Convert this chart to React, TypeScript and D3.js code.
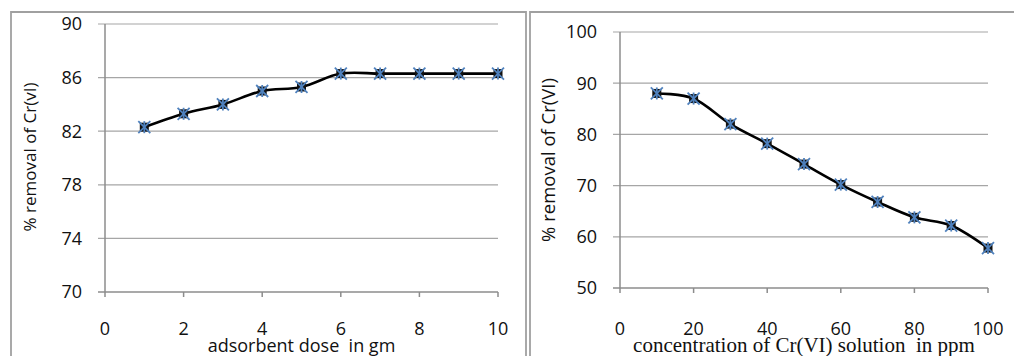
import React from "react";
import * as d3 from "d3";

const doseX = [1, 2, 3, 4, 5, 6, 7, 8, 9, 10];
const doseY = [82.3, 83.3, 84.0, 85.0, 85.3, 86.3, 86.3, 86.3, 86.3, 86.3];
const doseXTicks = [0, 2, 4, 6, 8, 10];
const doseYTicks = [70, 74, 78, 82, 86, 90];

const concX = [10, 20, 30, 40, 50, 60, 70, 80, 90, 100];
const concY = [88.0, 87.0, 82.0, 78.2, 74.2, 70.2, 66.8, 63.8, 62.2, 57.8];
const concXTicks = [0, 20, 40, 60, 80, 100];
const concYTicks = [50, 60, 70, 80, 90, 100];

const SANS = "'Open Sans', 'DejaVu Sans', sans-serif";
const SERIF = "'Liberation Serif', 'Times New Roman', serif";

type PanelProps = {
  xs: number[];
  ys: number[];
  xTicks: number[];
  yTicks: number[];
  xDomain: [number, number];
  yDomain: [number, number];
  x0: number;
  x1: number;
  y0: number;
  y1: number;
  yLabelRight: number;
  yTitleX: number;
  yTitleY: number;
  yTitleSize: number;
  yTitle: string;
  xTitle: string;
  xTitleFont: string;
  xTitleSize: number;
};

function Marker({ cx, cy }: { cx: number; cy: number }) {
  const r = 6;
  return (
    <g>
      <rect x={cx - 4.5} y={cy - 4.5} width={9} height={9} fill="#111" />
      <line x1={cx - r} y1={cy - r} x2={cx + r} y2={cy + r} stroke="#4F81BD" strokeWidth={1.8} />
      <line x1={cx - r} y1={cy + r} x2={cx + r} y2={cy - r} stroke="#4F81BD" strokeWidth={1.8} />
      <line x1={cx} y1={cy - r} x2={cx} y2={cy + r} stroke="#4F81BD" strokeWidth={1.8} />
    </g>
  );
}

function Panel(p: PanelProps) {
  const x = d3.scaleLinear().domain(p.xDomain).range([p.x0, p.x1]);
  const y = d3.scaleLinear().domain(p.yDomain).range([p.y1, p.y0]);
  const line = d3
    .line<number>()
    .x((_, i) => x(p.xs[i]))
    .y((d) => y(d))
    .curve(d3.curveCardinal.tension(0));
  const path = line(p.ys) || "";
  const midX = (p.x0 + p.x1) / 2;
  return (
    <g>
      {p.yTicks.map((t) => (
        <g key={"gy" + t}>
          <line x1={p.x0 - 7} x2={p.x1} y1={y(t)} y2={y(t)} stroke={t === p.yDomain[0] ? "#8c8c8c" : "#a6a6a6"} strokeWidth={t === p.yDomain[0] ? 1.5 : 1.2} />
          <text x={p.yLabelRight} y={y(t)} dy="0.36em" textAnchor="end" fontFamily={SANS} fontSize={18} fill="#111">
            {t}
          </text>
        </g>
      ))}
      <line x1={p.x0} x2={p.x0} y1={p.y0} y2={p.y1} stroke="#8c8c8c" strokeWidth={1.5} />
      {p.xTicks.map((t) => (
        <g key={"gx" + t}>
          <line x1={x(t)} x2={x(t)} y1={p.y1} y2={p.y1 + 5} stroke="#8c8c8c" strokeWidth={1.5} />
          <text x={x(t)} y={335} textAnchor="middle" fontFamily={SANS} fontSize={18} fill="#111">
            {t}
          </text>
        </g>
      ))}
      <path d={path} fill="none" stroke="#000" strokeWidth={2.6} />
      {p.ys.map((v, i) => (
        <Marker key={"m" + i} cx={x(p.xs[i])} cy={y(v)} />
      ))}
      <text
        transform={`translate(${p.yTitleX},${p.yTitleY}) rotate(-90)`}
        textAnchor="middle"
        dy="0.35em"
        fontFamily={SANS}
        fontSize={p.yTitleSize}
        fill="#111"
      >
        {p.yTitle}
      </text>
      <text x={midX} y={352} textAnchor="middle" fontFamily={p.xTitleFont} fontSize={p.xTitleSize} fill="#111" style={{ whiteSpace: "pre" }}>
        {p.xTitle}
      </text>
    </g>
  );
}

export default function App() {
  return (
    <svg width={1014} height={356} style={{ position: "absolute", left: 0, top: 0, background: "#fff" }}>
      <rect x={0} y={0} width={1014} height={356} fill="#fff" />
      <path d="M11,360 L11,12 L526,12 L526,360" fill="none" stroke="#a0a0a0" strokeWidth={1.8} />
      <path d="M530,360 L530,12 L1016,12" fill="none" stroke="#a0a0a0" strokeWidth={1.8} />
      <Panel
        xs={doseX}
        ys={doseY}
        xTicks={doseXTicks}
        yTicks={doseYTicks}
        xDomain={[0, 10]}
        yDomain={[70, 90]}
        x0={105}
        x1={498}
        y0={24}
        y1={292}
        yLabelRight={82}
        yTitleX={30}
        yTitleY={157}
        yTitleSize={17}
        yTitle="% removal of Cr(vI)"
        xTitle="adsorbent dose  in gm"
        xTitleFont={SANS}
        xTitleSize={18}
      />
      <Panel
        xs={concX}
        ys={concY}
        xTicks={concXTicks}
        yTicks={concYTicks}
        xDomain={[0, 100]}
        yDomain={[50, 100]}
        x0={620}
        x1={988}
        y0={32}
        y1={288}
        yLabelRight={597}
        yTitleX={549}
        yTitleY={160}
        yTitleSize={18.5}
        yTitle="% removal of Cr(VI)"
        xTitle="concentration of Cr(VI) solution  in ppm"
        xTitleFont={SERIF}
        xTitleSize={21}
      />
    </svg>
  );
}
